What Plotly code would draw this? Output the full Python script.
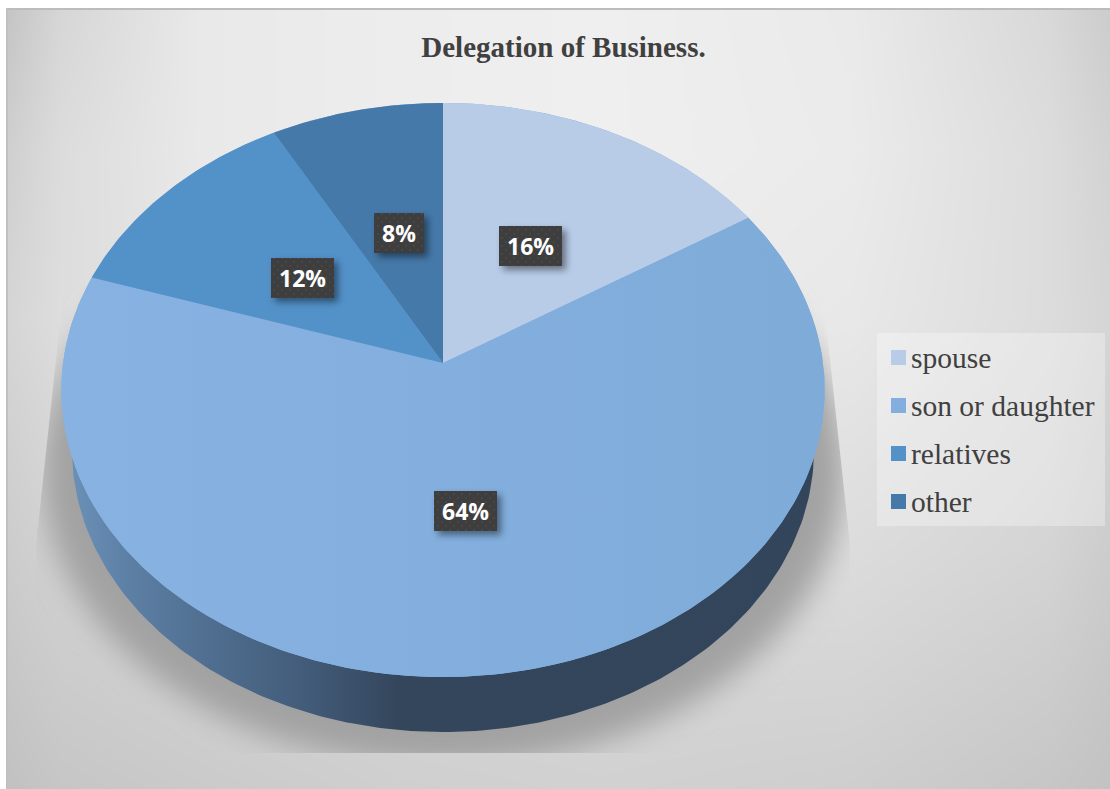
import base64
import struct
import zlib
import numpy as np
import plotly.graph_objects as go

# Chart content
title = "Delegation of Business."
categories = ["spouse", "son or daughter", "relatives", "other"]
shares = [16, 64, 12, 8]
slice_colors = ["#b8cce8", "#83aedd", "#5391c9", "#4579aa"]

# Page and pie geometry in pixels
W, H = 1110, 789
APEX_X, APEX_Y = 443, 363
RADIUS_X, RADIUS_Y = 380, 284.5
TILT = 0.094
WALL_CX, WALL_CY, WALL_RX, WALL_RY = 443, 450, 371, 282

# Label box centres, one per category
label_centres = [(530.5, 246), (465.5, 511), (302.5, 278), (399, 233)]
label_widths = [63, 63, 63, 50]
LABEL_H = 40

# Grey levels of the chart area's soft backdrop, sampled on a coarse grid
shade_x = [6, 60, 200, 400, 600, 850, 1050, 1110]
shade_y = [10, 150, 320, 550, 789]
shade_levels = [
    [0xc4, 0xd6, 0xe9, 0xed, 0xef, 0xea, 0xd8, 0xcc],
    [0xcf, 0xdc, 0xe9, 0xed, 0xef, 0xeb, 0xdc, 0xd2],
    [0xd5, 0xdd, 0xe6, 0xec, 0xec, 0xe8, 0xdc, 0xd5],
    [0xcc, 0xd2, 0xd8, 0xda, 0xda, 0xdc, 0xd4, 0xcc],
    [0xc1, 0xc6, 0xca, 0xcf, 0xd1, 0xce, 0xc6, 0xc2],
]


def project(turn):
    """Map a fraction of the circle (clockwise from 12 o'clock) onto the tilted disc."""
    u, v = np.sin(2 * np.pi * turn), np.cos(2 * np.pi * turn)
    w = 1 + TILT * v
    return APEX_X + RADIUS_X * u / w, APEX_Y - RADIUS_Y * v / w


def backdrop_png():
    """Bilinear upsample of the shade grid, encoded as an 8-bit greyscale PNG."""
    xs, ys = np.arange(W), np.arange(H)
    rows = np.array([np.interp(xs, shade_x, row) for row in shade_levels])
    full = np.array([np.interp(ys, shade_y, rows[:, i]) for i in range(W)]).T
    raw = b"".join(b"\x00" + line.tobytes() for line in np.round(full).astype(np.uint8))

    def chunk(tag, payload):
        body = tag + payload
        return struct.pack(">I", len(payload)) + body + struct.pack(">I", zlib.crc32(body))

    png = (b"\x89PNG\r\n\x1a\n"
           + chunk(b"IHDR", struct.pack(">IIBBBBB", W, H, 8, 0, 0, 0, 0))
           + chunk(b"IDAT", zlib.compress(raw))
           + chunk(b"IEND", b""))
    return "data:image/png;base64," + base64.b64encode(png).decode()


def backdrop_svg():
    return f"""<svg xmlns='http://www.w3.org/2000/svg' xmlns:xlink='http://www.w3.org/1999/xlink' width='{W}' height='{H}' viewBox='0 0 {W} {H}'>
<defs>
<filter id='soft' x='-20%' y='-20%' width='140%' height='140%'><feGaussianBlur stdDeviation='15'/></filter>
<clipPath id='frame'><rect x='6' y='8' width='{W - 6}' height='{H - 8}'/></clipPath>
<clipPath id='shadowclip'><polygon points='64,285 822,285 850,545 850,753 36,753 36,545'/></clipPath>
</defs>
<rect x='0' y='0' width='{W}' height='{H}' fill='#ffffff'/>
<image x='0' y='0' width='{W}' height='{H}' clip-path='url(#frame)' href='{backdrop_png()}' xlink:href='{backdrop_png()}'/>
<rect x='6' y='8' width='{W - 6}' height='2' fill='#bcbcbc'/>
<rect x='6' y='8' width='2' height='{H - 8}' fill='#c0c0c0'/>
<g clip-path='url(#shadowclip)'>
<ellipse cx='443' cy='470' rx='402' ry='296' fill='#a2a2a2' filter='url(#soft)'/>
</g>
</svg>"""


def label_boxes_svg():
    rects = ""
    shadows = ""
    for (cx, cy), bw in zip(label_centres, label_widths):
        x, y = cx - bw / 2, cy - LABEL_H / 2
        shadows += f"<rect x='{x + 4}' y='{y + 4}' width='{bw}' height='{LABEL_H}' fill='#000' fill-opacity='0.45'/>"
        rects += f"<rect x='{x}' y='{y}' width='{bw}' height='{LABEL_H}' fill='url(#dots)'/>"
    return f"""<svg xmlns='http://www.w3.org/2000/svg' width='{W}' height='{H}' viewBox='0 0 {W} {H}'>
<defs>
<pattern id='dots' width='8' height='8' patternUnits='userSpaceOnUse'>
<rect width='8' height='8' fill='#3e3e3e'/><circle cx='2' cy='2' r='1' fill='#4a4a4a'/><circle cx='6' cy='6' r='1' fill='#4a4a4a'/>
</pattern>
<filter id='blur' x='-30%' y='-30%' width='160%' height='160%'><feGaussianBlur stdDeviation='3.5'/></filter>
</defs>
<g filter='url(#blur)'>{shadows}</g>{rects}
</svg>"""


def as_data_uri(svg):
    return "data:image/svg+xml;base64," + base64.b64encode(svg.encode()).decode()


fig = go.Figure()

# Side wall of the disc, shaded from the lit left edge into shadow
t = np.linspace(0, 2 * np.pi, 361)
fig.add_trace(go.Scatter(
    x=WALL_CX + WALL_RX * np.cos(t),
    y=WALL_CY + WALL_RY * np.sin(t),
    mode="lines", line=dict(width=0), fill="toself", hoverinfo="skip", showlegend=False,
    fillgradient=dict(type="horizontal", start=72, stop=814, colorscale=[
        [0.0, "#6b90b6"], [0.08, "#5c7fa4"], [0.2, "#4e6c8d"], [0.3, "#445e7c"],
        [0.44, "#34465c"], [1.0, "#33455b"]]),
))

# Base disc closes the hairline seams between neighbouring wedges
base_x, base_y = project(np.linspace(0, 1, 361))
fig.add_trace(go.Scatter(
    x=base_x, y=base_y, mode="lines", line=dict(width=0), fill="toself",
    fillcolor=slice_colors[1], hoverinfo="skip", showlegend=False,
))

# Top face: one filled wedge per category, spanning its share of the circle
total = sum(shares)
start = 0.0
for name, value, color in zip(categories, shares, slice_colors):
    turns = np.linspace(start, start + value / total, max(2, int(value * 6)))
    px, py = project(turns)
    wedge = dict(x=np.r_[APEX_X, px, APEX_X], y=np.r_[APEX_Y, py, APEX_Y],
                 mode="lines", line=dict(width=0), fill="toself",
                 name=name, showlegend=False, hoverinfo="name")
    if value == max(shares):
        # The largest wedge catches a little more light on its left side
        wedge["fillgradient"] = dict(type="horizontal", start=61, stop=825,
                                     colorscale=[[0, "#87b2e2"], [1, "#7fabd9"]])
    else:
        wedge["fillcolor"] = color
    fig.add_trace(go.Scatter(**wedge))
    start += value / total

annotations = [
    dict(x=cx, y=cy, xref="x", yref="y", text=f"<b>{v}%</b>", showarrow=False,
         font=dict(family="Open Sans", size=23, color="#ffffff"))
    for (cx, cy), v in zip(label_centres, shares)
]

# Hand-placed key on the right with its translucent panel
shapes = [dict(type="rect", xref="x", yref="y", x0=877, x1=1105, y0=333, y1=526,
               fillcolor="rgba(255,255,255,0.3)", line=dict(width=0), layer="above")]
for i, (name, color) in enumerate(zip(categories, slice_colors)):
    row_y = 357.5 + 48 * i
    shapes.append(dict(type="rect", xref="x", yref="y", x0=891, x1=906,
                       y0=row_y - 7.5, y1=row_y + 7.5, fillcolor=color, line=dict(width=0)))
    annotations.append(dict(x=909, y=row_y, xref="x", yref="y", xanchor="left", yanchor="middle",
                            text=name, showarrow=False,
                            font=dict(family="Liberation Serif", size=29.5, color="#404040")))

images = [
    dict(source=as_data_uri(backdrop_svg()), xref="x", yref="y", x=0, y=0, sizex=W, sizey=H,
         sizing="stretch", xanchor="left", yanchor="top", layer="below"),
    dict(source=as_data_uri(label_boxes_svg()), xref="x", yref="y", x=0, y=0, sizex=W, sizey=H,
         sizing="stretch", xanchor="left", yanchor="top", layer="above"),
]

fig.update_layout(
    width=W, height=H, margin=dict(l=0, r=0, t=0, b=0),
    paper_bgcolor="#ffffff", plot_bgcolor="rgba(0,0,0,0)", showlegend=False,
    title=dict(text=f"<b>{title}</b>", x=563.5 / W, xanchor="center", y=1 - 47 / H, yanchor="middle",
               font=dict(family="Liberation Serif", size=29, color="#404040")),
    xaxis=dict(range=[0, W], visible=False, fixedrange=True),
    yaxis=dict(range=[H, 0], visible=False, fixedrange=True),
    shapes=shapes, annotations=annotations, images=images,
)

fig.write_html("out.html", config=dict(displayModeBar=False))
